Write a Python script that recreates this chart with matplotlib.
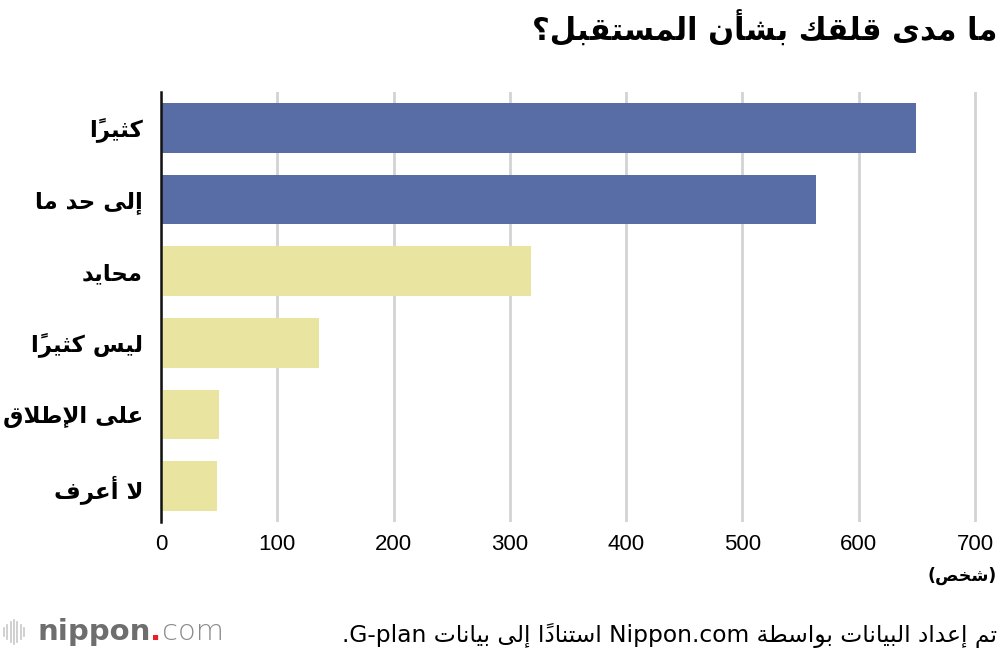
import matplotlib
matplotlib.use("Agg")
import matplotlib.pyplot as plt
from matplotlib.lines import Line2D

# ---------------- data ----------------
categories = ["كثيرًا", "إلى حد ما", "محايد", "ليس كثيرًا", "على الإطلاق", "لا أعرف"]
values = [649, 563, 318, 136, 50, 48]
bar_colors = ["#586ca6", "#586ca6", "#e9e4a0", "#e9e4a0", "#e9e4a0", "#e9e4a0"]
xticks = [0, 100, 200, 300, 400, 500, 600, 700]
title = "ما مدى قلقك بشأن المستقبل؟"
unit_label = "(شخص)"
source = "تم إعداد البيانات بواسطة Nippon.com استنادًا إلى بيانات G-plan."

# ---------------- minimal Arabic shaping + RTL ordering ----------------
DUAL = {0x0626: 0xFE89, 0x0628: 0xFE8F, 0x062A: 0xFE95, 0x062B: 0xFE99, 0x062C: 0xFE9D,
        0x062D: 0xFEA1, 0x062E: 0xFEA5, 0x0633: 0xFEB1, 0x0634: 0xFEB5, 0x0635: 0xFEB9,
        0x0636: 0xFEBD, 0x0637: 0xFEC1, 0x0638: 0xFEC5, 0x0639: 0xFEC9, 0x063A: 0xFECD,
        0x0641: 0xFED1, 0x0642: 0xFED5, 0x0643: 0xFED9, 0x0644: 0xFEDD, 0x0645: 0xFEE1,
        0x0646: 0xFEE5, 0x0647: 0xFEE9, 0x064A: 0xFEF1}
RIGHT = {0x0622: 0xFE81, 0x0623: 0xFE83, 0x0624: 0xFE85, 0x0625: 0xFE87, 0x0627: 0xFE8D,
         0x0629: 0xFE93, 0x062F: 0xFEA9, 0x0630: 0xFEAB, 0x0631: 0xFEAD, 0x0632: 0xFEAF,
         0x0648: 0xFEED, 0x0649: 0xFEEF}
LAMALEF = {0x0622: 0xFEF5, 0x0623: 0xFEF7, 0x0625: 0xFEF9, 0x0627: 0xFEFB}
MIRROR = {"(": ")", ")": "("}


def is_mark(ch):
    return 0x064B <= ord(ch) <= 0x065F or ord(ch) == 0x0670


def shape_word(word):
    clusters = []
    for ch in word:
        if is_mark(ch) and clusters:
            clusters[-1][1].append(ch)
        else:
            clusters.append([ch, []])
    merged = []
    i = 0
    while i < len(clusters):
        b, m = clusters[i]
        if ord(b) == 0x0644 and i + 1 < len(clusters) and ord(clusters[i + 1][0]) in LAMALEF:
            merged.append(("LA", LAMALEF[ord(clusters[i + 1][0])], m + clusters[i + 1][1]))
            i += 2
            continue
        o = ord(b)
        if o in DUAL:
            merged.append(("D", DUAL[o], m))
        elif o in RIGHT:
            merged.append(("R", RIGHT[o], m))
        else:
            merged.append(("N", b, m))
        i += 1

    def joining(t):
        return t in ("D", "R", "LA")

    out = []
    n = len(merged)
    for k, (t, base, marks) in enumerate(merged):
        prev_j = k > 0 and merged[k - 1][0] == "D" and joining(t)
        next_j = t == "D" and k + 1 < n and joining(merged[k + 1][0])
        if t == "N":
            g = MIRROR.get(base, base)
        elif t == "D":
            off = 3 if (prev_j and next_j) else 1 if prev_j else 2 if next_j else 0
            g = chr(base + off)
        else:
            g = chr(base + (1 if prev_j else 0))
        out.append("".join(marks) + g)
    return "".join(reversed(out))


def has_latin(w):
    return any("A" <= c <= "z" for c in w)


def rtl(text):
    tail = ""
    if text.endswith("."):
        tail, text = ".", text[:-1]
    words = text.split(" ")
    vis = [w if has_latin(w) else shape_word(w) for w in words]
    return tail + " ".join(reversed(vis))


# ---------------- figure ----------------
fig = plt.figure(figsize=(10, 6.54), dpi=100)
XMAX = 703
ax = fig.add_axes([0.161, 1 - 522 / 654, XMAX * 1.1629 / 1000, 430 / 654])

ypos = list(range(len(categories)))
ax.barh(ypos, values, height=0.69, color=bar_colors, zorder=3)
ax.set_ylim(len(categories) - 0.5, -0.5)
ax.set_xlim(0, XMAX)

ax.set_xticks(xticks)
ax.set_xticklabels([str(t) for t in xticks],
                   fontfamily=["Liberation Sans Narrow", "Liberation Sans", "DejaVu Sans"],
                   fontsize=16)
ax.tick_params(axis="x", length=0, pad=9)
ax.set_yticks(ypos)
ax.set_yticklabels([rtl(c) for c in categories], fontfamily="DejaVu Sans",
                   fontweight="bold", fontsize=16.5)
ax.tick_params(axis="y", length=0, pad=13)

ax.grid(axis="x", color="#d3d3d3", linewidth=2, zorder=0)
for s in ["top", "right", "bottom"]:
    ax.spines[s].set_visible(False)
ax.spines["left"].set_color("#111111")
ax.spines["left"].set_linewidth(1.8)
ax.spines["left"].set_zorder(4)

# title
fig.text(0.997, 1 - 28 / 654, rtl(title), ha="right", va="center",
         fontfamily="DejaVu Sans", fontweight="bold", fontsize=22)
# unit
fig.text(0.997, 1 - 576 / 654, rtl(unit_label), ha="right", va="center",
         fontfamily="DejaVu Sans", fontweight="bold", fontsize=12.5)
# source
fig.text(0.997, 1 - 636 / 654, rtl(source), ha="right", va="center",
         fontfamily="DejaVu Sans", fontsize=16.8)

# logo
logo_y = 1 - 632 / 654
heights = [8, 14, 20, 24, 20, 14, 8]
for i, h in enumerate(heights):
    x = (4 + i * 3.3) / 1000
    fig.add_artist(Line2D([x, x], [logo_y - h / 2 / 654, logo_y + h / 2 / 654],
                          color="#c8c8c8", linewidth=1.2))
t1 = fig.text(0.037, logo_y, "nippon", ha="left", va="center", color="#6e6e6e",
              fontfamily="DejaVu Sans", fontweight="bold", fontsize=21)
fig.canvas.draw()
bb = t1.get_window_extent()
t2 = fig.text(bb.x1 / 1000, logo_y, ".", ha="left", va="center", color="#e8202a",
              fontfamily="DejaVu Sans", fontweight="bold", fontsize=21)
bb2 = t2.get_window_extent()
fig.text(bb2.x1 / 1000, logo_y, "com", ha="left", va="center", color="#8a8a8a",
         fontfamily="DejaVu Sans", fontweight="light", fontsize=21)

fig.savefig("out.png", dpi=100)
